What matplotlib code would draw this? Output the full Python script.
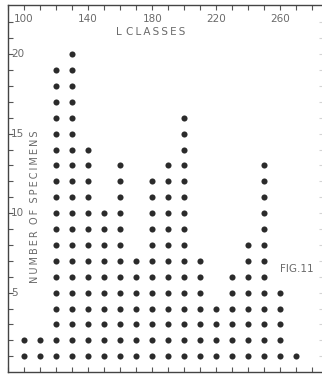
import matplotlib.pyplot as plt
import numpy as np

# l classes and number of specimens in each
classes = [100, 110, 120, 130, 140, 150, 160, 170, 180, 190,
           200, 210, 220, 230, 240, 250, 260, 270]
counts = [2, 2, 19, 20, 14, 10, 13, 7, 12, 13,
          16, 7, 4, 6, 8, 13, 5, 1]
top_labels = [100, 140, 180, 220, 260]
y_labels = [5, 10, 15, 20]

ink = "#2b2b2b"
txt = "#6a6a6a"

fig = plt.figure(figsize=(3.22, 3.77), dpi=100)
ax = fig.add_axes([0.025, 0.013, 0.975, 0.974])

xs = np.repeat(classes, counts)
ys = np.concatenate([np.arange(1, c + 1) for c in counts])
ax.plot(xs, ys, "o", color=ink, markersize=4.4, markeredgewidth=0)

ax.set_xlim(90, 286)
ax.set_ylim(0, 23.1)

for s in ["left", "top", "bottom"]:
    ax.spines[s].set_color("#444444")
    ax.spines[s].set_linewidth(1.0)
ax.spines["right"].set_visible(False)

ax.set_xticks(np.arange(90, 290, 10))
ax.set_yticks(np.arange(1, 23))
ax.tick_params(axis="x", which="both", direction="in", length=3.5, width=0.8,
               color="#555555", top=True, bottom=True, labelbottom=False, labeltop=False)
ax.tick_params(axis="y", which="both", direction="in", length=3.5, width=0.8,
               color="#555555", left=True, right=False, labelleft=False, labelright=False)

# faint ticks along the right edge
ax2 = ax.twinx()
ax2.set_ylim(ax.get_ylim())
ax2.set_yticks(np.arange(1, 23))
ax2.tick_params(axis="y", direction="in", length=2, width=0.8, color="#d4d4d4",
                labelright=False)
for s in ax2.spines.values():
    s.set_visible(False)

for v in top_labels:
    ax.text(v, 22.2, str(v), ha="center", va="center", fontsize=7.5, color=txt)
ax.text(179, 21.4, "L  C L A S S E S".replace(" ", "\u2009"), ha="center", va="center",
        fontsize=7.5, color=txt)

for v in y_labels:
    ax.text(91.8, v, str(v), ha="left", va="center", fontsize=7.5, color=txt)
ax.text(107, 10.4, "N U M B E R   O F   S P E C I M E N S".replace(" ", "\u2009").replace("\u2009\u2009\u2009", "  "),
        rotation=90, ha="center", va="center", fontsize=7, color=txt)
ax.text(270, 6.5, "FIG.11", ha="center", va="center", fontsize=7.5, color=txt)

fig.savefig("out.png", dpi=100)
